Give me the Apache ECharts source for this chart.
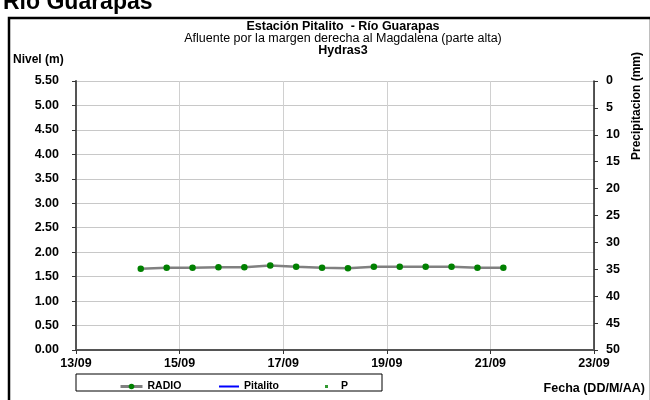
<!DOCTYPE html>
<html>
<head>
<meta charset="utf-8">
<script src="https://cdn.jsdelivr.net/npm/echarts@6/dist/echarts.min.js"></script>
<style>
html,body{margin:0;padding:0;background:#fff;}
#c{width:650px;height:400px;}
</style>
</head>
<body>
<div id="c"></div>
<script>
// Data (dates DD/MM HH:mm)
const times = ["14/09 06:00","14/09 18:00","15/09 06:00","15/09 18:00","16/09 06:00","16/09 18:00","17/09 06:00","17/09 18:00","18/09 06:00","18/09 18:00","19/09 06:00","19/09 18:00","20/09 06:00","20/09 18:00","21/09 06:00"];
const radio = [1.66,1.68,1.68,1.69,1.69,1.73,1.70,1.68,1.67,1.70,1.70,1.70,1.70,1.68,1.68];
const pitalito = [];
const precip = [];
const levelTicks = {min:0, max:5.5, interval:0.5};
const precipTicks = {min:0, max:50, interval:5};
const dateTicks = {min:13, max:23, interval:2};

function toDay(s){
  const [d, t] = s.split(' ');
  const day = parseInt(d.split('/')[0],10);
  const [h,m] = t.split(':').map(Number);
  return day + (h + m/60)/24;
}
const radioData = times.map((t,i)=>[toDay(t), radio[i]]);

const F = '"Liberation Sans", Arial, sans-serif';
const legText = {fontFamily:F, fontWeight:'bold', fontSize:10.5, color:'#000'};
const chart = echarts.init(document.getElementById('c'));
chart.setOption({
  animation:false,
  backgroundColor:'#fff',
  grid:{left:76, right:56, top:81, bottom:50, containLabel:false},
  xAxis:{
    type:'value', min:dateTicks.min, max:dateTicks.max, interval:dateTicks.interval,
    axisLine:{show:true, onZero:false, lineStyle:{color:'#555', width:2}},
    axisTick:{show:true, length:4, inside:false, lineStyle:{color:'#333'}},
    axisLabel:{fontFamily:F, fontWeight:'bold', fontSize:12.5, color:'#000', margin:7,
      formatter:v=>String(Math.round(v)).padStart(2,'0')+'/09'},
    splitLine:{show:true, lineStyle:{color:'#d0d0d0', width:1}}
  },
  yAxis:[{
    type:'value', min:levelTicks.min, max:levelTicks.max, interval:levelTicks.interval,
    axisLine:{show:true, lineStyle:{color:'#555', width:2}},
    axisTick:{show:true, length:4, lineStyle:{color:'#333'}},
    axisLabel:{fontFamily:F, fontWeight:'bold', fontSize:12.5, color:'#000', margin:17,
      formatter:v=>v.toFixed(2)},
    splitLine:{show:true, lineStyle:{color:'#c8c8c8', width:1}}
  },{
    type:'value', min:precipTicks.min, max:precipTicks.max, interval:precipTicks.interval, inverse:true,
    position:'right',
    axisLine:{show:true, lineStyle:{color:'#222', width:1.5}},
    axisTick:{show:true, length:4, lineStyle:{color:'#333'}},
    axisLabel:{fontFamily:F, fontWeight:'bold', fontSize:12.5, color:'#000', margin:12},
    splitLine:{show:false}
  }],
  legend:[
    {data:[{name:'RADIO', itemStyle:{color:'#008000'}, lineStyle:{color:'#808080', width:3}}], left:114, top:376, itemWidth:22, itemHeight:7, textStyle:legText},
    {data:[{name:'Pitalito', icon:'path://M0,0 L20,0 L20,2 L0,2 Z', itemStyle:{color:'#0000ff'}}], left:214, top:376, itemWidth:20, itemHeight:2, textStyle:legText},
    {data:[{name:'P', icon:'rect', itemStyle:{color:'#008000'}}], left:320, top:376, itemWidth:3, itemHeight:3, textStyle:Object.assign({}, legText, {padding:[0,0,0,8]})}
  ],
  series:[
    {name:'RADIO', type:'line', data:radioData, symbol:'circle', symbolSize:6.5,
      itemStyle:{color:'#008000'}, lineStyle:{color:'#808080', width:2.5}, z:3},
    {name:'Pitalito', type:'line', data:pitalito, symbol:'none', itemStyle:{color:'#0000ff'}, lineStyle:{color:'#0000ff', width:2}},
    {name:'P', type:'scatter', yAxisIndex:1, data:precip, symbol:'rect', symbolSize:3, itemStyle:{color:'#008000'}}
  ],
  graphic:[
    {type:'rect', shape:{x:9, y:18, width:642, height:400}, style:{fill:'none', stroke:'#000', lineWidth:2.5}, silent:true},
    {type:'text', x:3, y:14, style:{text:'Río Guarapas', font:'bold 23px '+F, fill:'#000', textVerticalAlign:'bottom'}},
    {type:'text', x:343, y:27, style:{text:'Estación Pitalito  - Río Guarapas', font:'bold 12.5px '+F, fill:'#000', textAlign:'center', textVerticalAlign:'middle'}},
    {type:'text', x:343, y:39, style:{text:'Afluente por la margen derecha al Magdalena (parte alta)', font:'12.5px '+F, fill:'#000', textAlign:'center', textVerticalAlign:'middle'}},
    {type:'text', x:343, y:51, style:{text:'Hydras3', font:'bold 12.5px '+F, fill:'#000', textAlign:'center', textVerticalAlign:'middle'}},
    {type:'text', x:13, y:60, style:{text:'Nivel (m)', font:'bold 12px '+F, fill:'#000', textAlign:'left', textVerticalAlign:'middle'}},
    {type:'text', x:637, y:106, rotation:Math.PI/2, style:{text:'Precipitacion (mm)', font:'bold 12px '+F, fill:'#000', textAlign:'center', textVerticalAlign:'middle'}},
    {type:'text', x:645, y:389, style:{text:'Fecha (DD/M/AA)', font:'bold 12.5px '+F, fill:'#000', textAlign:'right', textVerticalAlign:'middle'}},
    {type:'rect', shape:{x:76, y:374, width:306, height:17}, style:{fill:'none', stroke:'#000', lineWidth:1}, silent:true}
  ]
});
</script>
</body>
</html>
